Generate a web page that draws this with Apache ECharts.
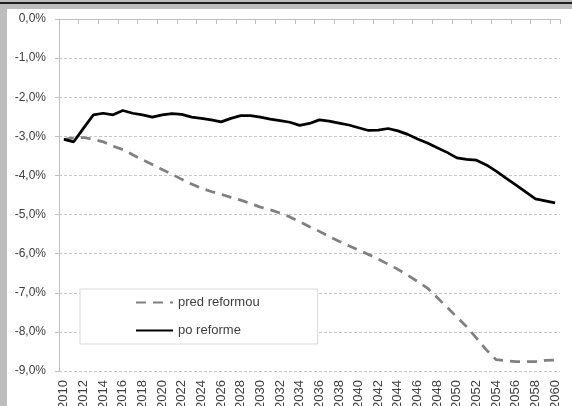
<!DOCTYPE html>
<html><head><meta charset="utf-8">
<script src="https://cdn.jsdelivr.net/npm/echarts@6/dist/echarts.min.js"></script>
<style>html,body{margin:0;padding:0;background:#fff}#c{width:572px;height:406px}</style>
</head><body><div id="c"></div>
<script>
var years = [];
for (var y = 2010; y <= 2060; y++) years.push(String(y));
var seriesNames = ['pred reformou', 'po reforme'];
var predReformou = [-3.08,-3.04,-3.03,-3.08,-3.14,-3.25,-3.34,-3.47,-3.60,-3.72,
  -3.85,-3.97,-4.10,-4.22,-4.33,-4.41,-4.48,-4.56,-4.63,-4.72,
  -4.81,-4.88,-4.96,-5.06,-5.18,-5.31,-5.43,-5.56,-5.68,-5.80,
  -5.91,-6.02,-6.14,-6.27,-6.40,-6.55,-6.71,-6.88,-7.12,-7.37,
  -7.62,-7.87,-8.16,-8.46,-8.71,-8.74,-8.76,-8.76,-8.76,-8.73,-8.72];
var poReforme = [-3.08,-3.14,-2.79,-2.45,-2.41,-2.45,-2.34,-2.41,-2.45,-2.51,
  -2.45,-2.42,-2.44,-2.51,-2.54,-2.58,-2.63,-2.54,-2.47,-2.47,
  -2.51,-2.56,-2.60,-2.64,-2.72,-2.67,-2.58,-2.61,-2.66,-2.71,
  -2.78,-2.85,-2.84,-2.80,-2.86,-2.95,-3.07,-3.17,-3.29,-3.41,
  -3.55,-3.59,-3.61,-3.73,-3.89,-4.07,-4.24,-4.42,-4.60,-4.65,-4.70];
var yMin = -9, yMax = 0, yStep = 1;

var chart = echarts.init(document.getElementById('c'), null, {renderer: 'canvas'});
var FONT = '"Liberation Sans", Arial, sans-serif';
chart.setOption({
  animation: false,
  backgroundColor: '#ffffff',
  graphic: [
    {type: 'rect', shape: {x: 0, y: 0, width: 572, height: 9}, style: {fill: '#bdbdbd'}, z: -10},
    {type: 'rect', shape: {x: 0, y: 2, width: 572, height: 2}, style: {fill: '#1e1e1e'}, z: -9},
    {type: 'rect', shape: {x: 0, y: 0, width: 7, height: 406}, style: {fill: '#bdbdbd'}, z: -10}
  ],
  grid: {left: 59, right: 12, top: 19, bottom: 35, containLabel: false, outerBoundsMode: 'none'},
  legend: {
    orient: 'vertical', left: 80, top: 289,
    data: seriesNames,
    itemWidth: 37, itemHeight: 14, itemGap: 15,
    padding: [7, 58, 7, 55],
    itemStyle: {opacity: 0},
    backgroundColor: '#ffffff', borderColor: '#d9d9d9', borderWidth: 1,
    textStyle: {color: '#404040', fontSize: 13, fontFamily: FONT}
  },
  xAxis: [
    {
      type: 'category', data: years, position: 'bottom', boundaryGap: true,
      axisLine: {show: false}, axisTick: {show: false},
      axisLabel: {rotate: 90, interval: 1, margin: 9, color: '#404040', fontSize: 13, fontFamily: FONT},
      splitLine: {show: false}
    },
    {
      type: 'category', data: years, position: 'top', boundaryGap: true,
      axisLine: {show: true, lineStyle: {color: '#bfbfbf', width: 1}},
      axisTick: {show: true, inside: true, length: 5, interval: 1, lineStyle: {color: '#bfbfbf'}},
      axisLabel: {show: false}, splitLine: {show: false}
    }
  ],
  yAxis: {
    type: 'value', min: yMin, max: yMax, interval: yStep,
    axisLine: {show: true, lineStyle: {color: '#bfbfbf'}},
    axisTick: {show: true, length: 4, lineStyle: {color: '#bfbfbf'}},
    axisLabel: {margin: 13, color: '#404040', fontSize: 12, fontFamily: FONT,
      formatter: function (v) { return v.toFixed(1).replace('.', ',') + '%'; }},
    splitLine: {show: true, lineStyle: {color: '#c8c8c8', type: [3, 2], width: 1}}
  },
  series: [
    {name: seriesNames[0], type: 'line', data: predReformou, xAxisIndex: 0, symbol: 'none',
      itemStyle: {color: '#808080'},
      lineStyle: {color: '#808080', width: 2.75, type: [10, 7], cap: 'butt'}},
    {name: seriesNames[1], type: 'line', data: poReforme, xAxisIndex: 0, symbol: 'none',
      itemStyle: {color: '#000000'},
      lineStyle: {color: '#000000', width: 2.75, type: 'solid'}}
  ]
});
</script></body></html>
